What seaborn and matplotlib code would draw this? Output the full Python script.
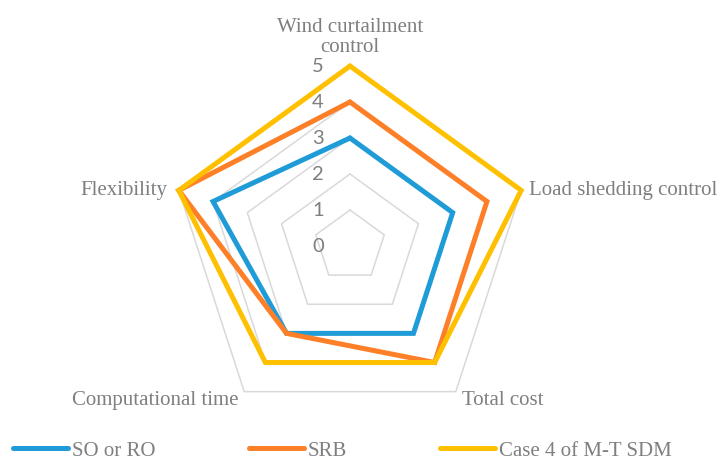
import numpy as np
import pandas as pd
import matplotlib
matplotlib.use("Agg")
import matplotlib.pyplot as plt
from matplotlib.lines import Line2D
import seaborn as sns

# ---- data ----
criteria = ["Wind curtailment\ncontrol", "Load shedding control", "Total cost",
            "Computational time", "Flexibility"]
series_names = ["SO or RO", "SRB", "Case 4 of M-T SDM"]
so_ro = [3, 3, 3, 3, 4]
srb = [4, 4, 4, 3, 5]
case4 = [5, 5, 4, 4, 5]
levels = [0, 1, 2, 3, 4, 5]

colors = ["#1f9bd7", "#fd7f28", "#ffc000"]
label_gray = "#7f7f7f"
grid_gray = "#d9d9d9"

sns.set_style("white")
plt.rcParams["font.family"] = ["Liberation Serif", "DejaVu Serif"]

n = len(criteria)
theta = np.arange(n) * 2 * np.pi / n
theta_closed = np.append(theta, 2 * np.pi)

rows = []
for name, vals in zip(series_names, [so_ro, srb, case4]):
    closed = list(vals) + [vals[0]]
    for t, v in zip(theta_closed, closed):
        rows.append({"theta": t, "value": v, "series": name})
df = pd.DataFrame(rows)

W, H, DPI = 722, 462, 100
fig = plt.figure(figsize=(W / DPI, H / DPI), dpi=DPI)
cx, cy, rad = 350, 246, 180
ax = fig.add_axes([(cx - rad) / W, (H - cy - rad) / H, 2 * rad / W, 2 * rad / H],
                  projection="polar")
ax.set_theta_offset(np.pi / 2)
ax.set_theta_direction(-1)
ax.set_ylim(0, max(levels))
ax.grid(False)
ax.spines["polar"].set_visible(False)
ax.set_xticks([])
ax.set_yticks([])
ax.patch.set_alpha(0)

# pentagon rings
for lv in levels[1:]:
    ax.plot(theta_closed, [lv] * len(theta_closed), color=grid_gray, lw=1.1,
            zorder=1, clip_on=False)

sns.lineplot(data=df, x="theta", y="value", hue="series", hue_order=series_names,
             palette=colors, sort=False, estimator=None, linewidth=3.6,
             legend=False, ax=ax, zorder=3)
for ln in ax.get_lines()[len(levels) - 1:]:
    ln.set_solid_joinstyle("miter")
    ln.set_clip_on(False)
ax.set_xlabel("")
ax.set_ylabel("")

# radial scale labels
for lv in levels:
    ax.annotate(str(lv), xy=(0, lv), xytext=(-26, -1), textcoords="offset pixels",
                ha="right", va="center", fontsize=14.5, color=label_gray,
                family=["Lato", "DejaVu Sans"], annotation_clip=False)

# criterion labels
rmax = max(levels)
label_specs = [
    ((0, 9), "center", "bottom"),
    ((8, -5), "left", "baseline"),
    ((6, -13), "left", "baseline"),
    ((-6, -13), "right", "baseline"),
    ((-11, -5), "right", "baseline"),
]
for t, txt, (off, ha, va) in zip(theta, criteria, label_specs):
    ax.annotate(txt, xy=(t, rmax), xytext=off, textcoords="offset pixels",
                ha=ha, va=va, fontsize=15, color=label_gray, linespacing=1.05,
                multialignment="center", annotation_clip=False)

# legend
handles = [Line2D([0], [0], color=c, lw=3.6, solid_capstyle="round") for c in colors]
fs = 15
px = fs * DPI / 72
leg = fig.legend(handles, series_names, loc="center left",
                 bbox_to_anchor=(13 / W, 1 - 451 / H), ncol=3, frameon=False,
                 fontsize=fs, handlelength=55 / px, handletextpad=4 / px,
                 columnspacing=93 / px, borderpad=0, borderaxespad=0)
for t in leg.get_texts():
    t.set_color(label_gray)

fig.savefig("out.png", dpi=DPI)
